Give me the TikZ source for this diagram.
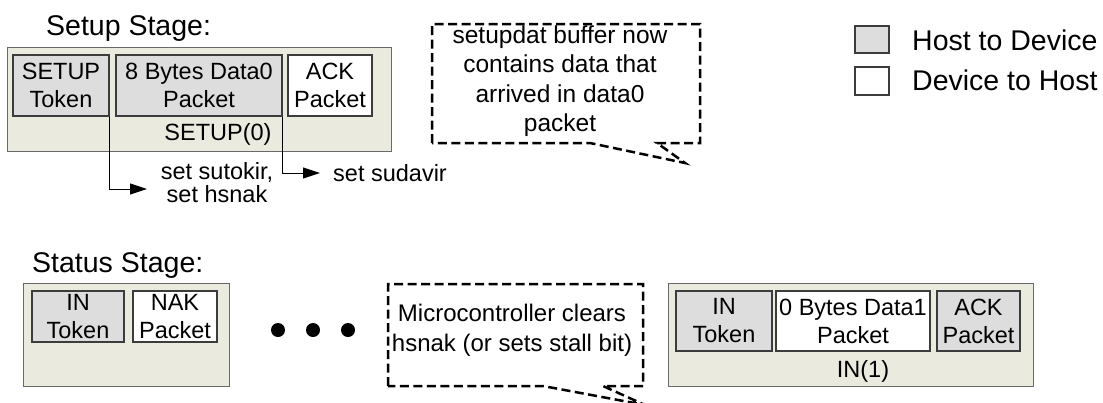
\documentclass[tikz,border=0pt]{standalone}
\usepackage{fontspec}
\setmainfont{Liberation Sans}
\usetikzlibrary{arrows.meta}
\definecolor{stagebg}{RGB}{234,234,222}
\definecolor{hostgray}{RGB}{221,221,221}
\definecolor{stageline}{RGB}{105,105,105}
\definecolor{pktline}{RGB}{60,60,60}
\tikzset{
  body/.style={font=\fontsize{23.5}{28}\selectfont, inner sep=0pt, align=center},
  big/.style={font=\fontsize{28.5}{33}\selectfont, inner sep=0pt},
  stagebox/.style={draw=stageline, fill=stagebg, line width=1pt, inner sep=0pt},
  h2d/.style={body, draw=pktline, fill=hostgray, line width=1.1pt},
  d2h/.style={body, draw=pktline, fill=white, line width=1.1pt},
  arr/.style={draw=black, line width=1pt, -{Triangle[length=17pt,width=11pt]}},
  callout/.style={draw=black, line width=2.5pt, dash pattern=on 9pt off 4.5pt},
  dot/.style={circle, fill=black, minimum size=14pt, inner sep=0pt}
}
\begin{document}
\begin{tikzpicture}[x=1pt,y=-1pt]
\useasboundingbox (0,0) rectangle (1103,402);
% ---------- Setup stage ----------
\node[big, anchor=base west] (setuptitle) at (46,35) {Setup Stage:};
\node[stagebox, minimum width=384, minimum height=104] (setupbox) at (199,99) {};
\node[h2d, minimum width=96, minimum height=61] (setuptok) at (61,85.5) {SETUP\\Token};
\node[h2d, minimum width=166, minimum height=61] (data0) at (199,85.5) {8 Bytes Data0\\Packet};
\node[d2h, minimum width=84, minimum height=61] (ack0) at (330,85.5) {ACK\\Packet};
\node[body] (setuplbl) at (218,134) {SETUP(0)};
\coordinate (a1) at (147,189);
\coordinate (a2) at (320,173);
\draw[arr] (setuptok.south east) |- (a1);
\draw[arr] (data0.south east) |- (a2);
\node[body, font=\fontsize{23.5}{23}\selectfont] (sutokir) at (217,183) {set sutokir,\\set hsnak};
\node[body, anchor=west] (sudavir) at (333,173) {set sudavir};
% callout 1
\node[body, font=\fontsize{24.5}{29.5}\selectfont] (note1) at (560,81) {setupdat buffer now\\contains data that\\arrived in data0\\packet};
\draw[callout, line join=miter] (432,143) -- (432,24) -- (700,24) -- (700,143) -- (657,143) -- (685,163) -- (590,143) -- cycle;
% legend
\node[h2d, minimum width=34, minimum height=27] (leg1) at (872,39.5) {};
\node[d2h, minimum width=34, minimum height=28] (leg2) at (872,81) {};
\node[big, anchor=west] (leg1txt) at (912,40) {Host to Device};
\node[big, anchor=west] (leg2txt) at (912,80) {Device to Host};
% ---------- Status stage ----------
\node[big, anchor=base west] (statustitle) at (32,272) {Status Stage:};
\node[stagebox, minimum width=206, minimum height=103] (statbox1) at (126,334.5) {};
\node[h2d, minimum width=92, minimum height=51] (intok1) at (78,316.5) {IN\\Token};
\node[d2h, minimum width=84, minimum height=51] (nak) at (175,316.5) {NAK\\Packet};
\node[dot] (dot1) at (278,330) {};
\node[dot] (dot2) at (313,330) {};
\node[dot] (dot3) at (348,330) {};
% callout 2
\begin{scope}
\clip (0,0) rectangle (1103,402);
\node[body, font=\fontsize{24}{30}\selectfont] (note2) at (512,330) {Microcontroller clears\\hsnak (or sets stall bit)};
\draw[callout, line join=miter] (388,386) -- (388,284) -- (643,284) -- (643,386) -- (603,386) -- (645,405) -- (543,386) -- cycle;
\end{scope}
\node[stagebox, minimum width=365, minimum height=103] (statbox2) at (850.5,334.5) {};
\node[h2d, minimum width=96, minimum height=60] (intok2) at (724,321) {IN\\Token};
\node[d2h, minimum width=154, minimum height=60] (data1) at (853,321) {0 Bytes Data1\\Packet};
\node[h2d, minimum width=83, minimum height=60] (ack1) at (978.5,321) {ACK\\Packet};
\node[body] (inlbl) at (863,371) {IN(1)};
\end{tikzpicture}
\end{document}
